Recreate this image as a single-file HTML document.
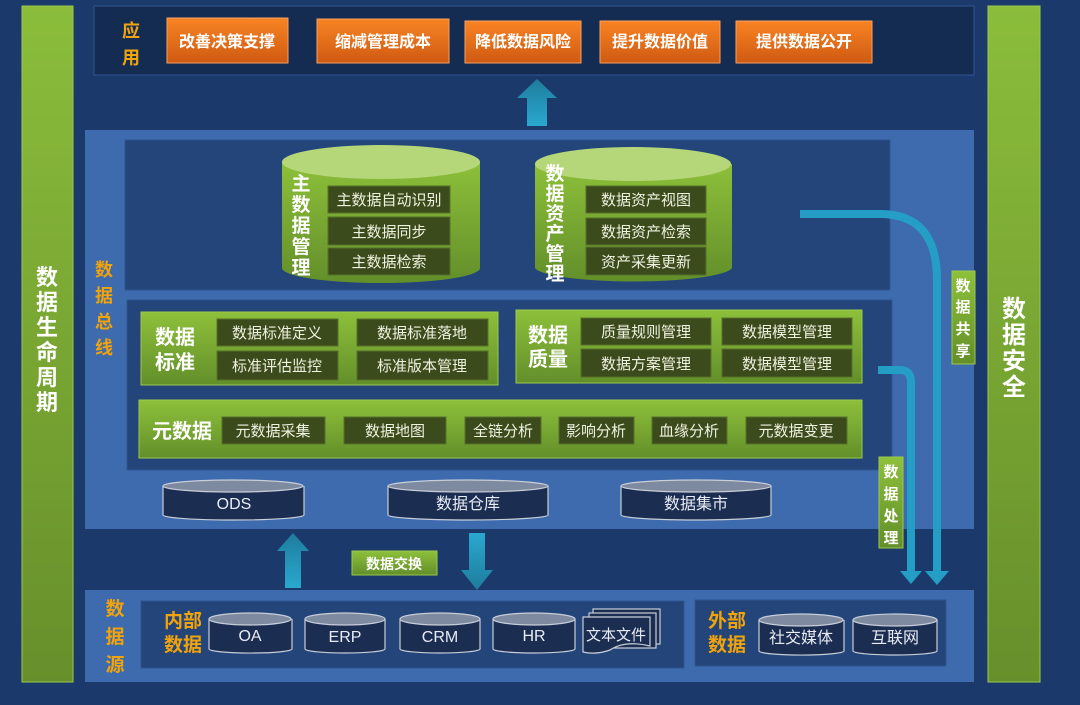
<!DOCTYPE html>
<html><head><meta charset="utf-8"><style>
html,body{margin:0;padding:0;background:#1b3a6b;}
svg{display:block;font-family:"Liberation Sans","Noto Sans CJK SC",sans-serif;}
</style></head><body>
<svg width="1080" height="705" viewBox="0 0 1080 705" xmlns="http://www.w3.org/2000/svg">
<defs>
<linearGradient id="gv" x1="0" y1="0" x2="0" y2="1"><stop offset="0" stop-color="#8dc03a"/><stop offset="1" stop-color="#638f2a"/></linearGradient>
<linearGradient id="gbar" x1="0" y1="0" x2="0" y2="1"><stop offset="0" stop-color="#8bbd3b"/><stop offset="1" stop-color="#678f2b"/></linearGradient>
<linearGradient id="or" x1="0" y1="0" x2="0" y2="1"><stop offset="0" stop-color="#f88424"/><stop offset="1" stop-color="#cf5a12"/></linearGradient>
<linearGradient id="ar" x1="0" y1="0" x2="0" y2="1"><stop offset="0" stop-color="#1e7c9c"/><stop offset="1" stop-color="#2aa8cf"/></linearGradient>
<linearGradient id="ard" x1="0" y1="0" x2="0" y2="1"><stop offset="0" stop-color="#2aa8cf"/><stop offset="1" stop-color="#1e7c9c"/></linearGradient>
</defs>
<rect width="1080" height="705" fill="#1b3a6b"/>
<!-- side bars -->
<rect x="22" y="6" width="51" height="676" fill="url(#gbar)" stroke="#9bc94a"/>
<rect x="988" y="6" width="52" height="676" fill="url(#gbar)" stroke="#9bc94a"/>
<g fill="#fff" font-weight="bold" font-size="22" text-anchor="middle">
<text x="47" y="285">数</text><text x="47" y="310">据</text><text x="47" y="335">生</text><text x="47" y="360">命</text><text x="47" y="385">周</text><text x="47" y="410">期</text>
<text x="1014" y="317" font-size="24">数</text><text x="1014" y="343" font-size="24">据</text><text x="1014" y="369" font-size="24">安</text><text x="1014" y="395" font-size="24">全</text>
</g>
<!-- application -->
<rect x="94" y="6" width="880" height="69" fill="#142b52" stroke="#2f5590"/>
<g fill="#f0a30a" font-weight="bold" font-size="18" text-anchor="middle"><text x="131" y="37">应</text><text x="131" y="64">用</text></g>
<g stroke="#f6a060" stroke-width="1">
<rect x="167" y="18" width="121" height="45" fill="url(#or)"/>
<rect x="317" y="19" width="132" height="44" fill="url(#or)"/>
<rect x="465" y="21" width="116" height="42" fill="url(#or)"/>
<rect x="600" y="21" width="120" height="42" fill="url(#or)"/>
<rect x="736" y="21" width="136" height="42" fill="url(#or)"/>
</g>
<g fill="#fff" font-weight="bold" font-size="16" text-anchor="middle">
<text x="227" y="47">改善决策支撑</text><text x="383" y="47">缩减管理成本</text><text x="523" y="47">降低数据风险</text><text x="660" y="47">提升数据价值</text><text x="804" y="47">提供数据公开</text>
</g>
<polygon points="537,79 557,98 547,98 547,126 527,126 527,98 517,98" fill="url(#ar)"/>
<!-- data bus -->
<rect x="85" y="130" width="889" height="399" fill="#3e6aae"/>
<g fill="#f0a30a" font-weight="bold" font-size="18" text-anchor="middle"><text x="104" y="276">数</text><text x="104" y="302">据</text><text x="104" y="328">总</text><text x="104" y="354">线</text></g>
<rect x="125" y="140" width="765" height="150" fill="#23457a" stroke="#2d5590"/>
<!-- cylinder 1 -->
<path d="M282,162 L282,268 A99,15 0 0 0 480,268 L480,162 Z" fill="url(#gv)"/>
<ellipse cx="381" cy="162" rx="99" ry="17" fill="#b6d67a"/>
<!-- cylinder 2 -->
<path d="M535,164 L535,268 A99,15 0 0 0 732,268 L732,164 Z" fill="url(#gv)"/>
<ellipse cx="633" cy="164" rx="98" ry="17" fill="#b6d67a"/>
<g fill="#3c4b1c" stroke="#55702a">
<rect x="328" y="186" width="122" height="27"/><rect x="328" y="217" width="122" height="28"/><rect x="328" y="248" width="122" height="27"/>
<rect x="586" y="186" width="120" height="27"/><rect x="586" y="218" width="120" height="27"/><rect x="586" y="247" width="120" height="28"/>
</g>
<g fill="#fff" font-weight="bold" font-size="19" text-anchor="middle">
<text x="301" y="190">主</text><text x="301" y="211">数</text><text x="301" y="232">据</text><text x="301" y="253">管</text><text x="301" y="274">理</text>
<text x="555" y="180">数</text><text x="555" y="200">据</text><text x="555" y="220">资</text><text x="555" y="240">产</text><text x="555" y="260">管</text><text x="555" y="280">理</text>
</g>
<g fill="#eef2e0" font-size="15" text-anchor="middle">
<text x="389" y="205">主数据自动识别</text><text x="389" y="237">主数据同步</text><text x="389" y="267">主数据检索</text>
<text x="646" y="205">数据资产视图</text><text x="646" y="237">数据资产检索</text><text x="646" y="267">资产采集更新</text>
</g>
<!-- middle -->
<rect x="127" y="300" width="765" height="170" fill="#23457a" stroke="#2d5590"/>
<g stroke="#9bc94a" fill="url(#gv)">
<rect x="141" y="312" width="357" height="73"/><rect x="516" y="310" width="346" height="73"/><rect x="139" y="400" width="723" height="58"/>
</g>
<g fill="#3c4b1c" stroke="#55702a">
<rect x="217" y="319" width="121" height="27"/><rect x="357" y="319" width="131" height="27"/><rect x="217" y="351" width="121" height="29"/><rect x="357" y="351" width="131" height="29"/>
<rect x="581" y="318" width="130" height="27"/><rect x="722" y="318" width="130" height="27"/><rect x="581" y="349" width="130" height="28"/><rect x="722" y="349" width="130" height="28"/>
<rect x="222" y="417" width="103" height="27"/><rect x="344" y="417" width="102" height="27"/><rect x="465" y="417" width="76" height="27"/><rect x="559" y="417" width="75" height="27"/><rect x="652" y="417" width="75" height="27"/><rect x="746" y="417" width="101" height="27"/>
</g>
<g fill="#fff" font-weight="bold" font-size="20" text-anchor="middle">
<text x="175" y="344">数据</text><text x="175" y="369">标准</text>
<text x="548" y="342">数据</text><text x="548" y="366">质量</text>
<text x="182" y="438">元数据</text>
</g>
<g fill="#eef2e0" font-size="15" text-anchor="middle">
<text x="277" y="338">数据标准定义</text><text x="422" y="338">数据标准落地</text><text x="277" y="371">标准评估监控</text><text x="422" y="371">标准版本管理</text>
<text x="646" y="337">质量规则管理</text><text x="787" y="337">数据模型管理</text><text x="646" y="369">数据方案管理</text><text x="787" y="369">数据模型管理</text>
<text x="273" y="436">元数据采集</text><text x="395" y="436">数据地图</text><text x="503" y="436">全链分析</text><text x="596" y="436">影响分析</text><text x="689" y="436">血缘分析</text><text x="796" y="436">元数据变更</text>
</g>
<!-- storage cylinders -->
<g fill="#1c2d52" stroke="#c8ced8" stroke-width="1.2">
<path d="M163,486 L163,515 A70,5 0 0 0 304,515 L304,486"/><ellipse cx="233" cy="486" rx="70" ry="6" fill="#7e8aa0"/>
<path d="M388,486 L388,515 A80,5 0 0 0 548,515 L548,486"/><ellipse cx="468" cy="486" rx="80" ry="6" fill="#7e8aa0"/>
<path d="M621,486 L621,515 A75,5 0 0 0 771,515 L771,486"/><ellipse cx="696" cy="486" rx="75" ry="6" fill="#7e8aa0"/>
</g>
<g fill="#e8ecf4" font-size="16" text-anchor="middle"><text x="234" y="509">ODS</text><text x="468" y="509">数据仓库</text><text x="696" y="509">数据集市</text></g>
<!-- exchange arrows -->
<polygon points="293,533 309,551 301,551 301,588 285,588 285,551 277,551" fill="url(#ar)"/>
<polygon points="469,533 485,533 485,570 493,570 477,590 461,570 469,570" fill="url(#ard)"/>
<rect x="352" y="551" width="85" height="24" fill="url(#gv)" stroke="#9bc94a"/>
<text x="394" y="569" fill="#fff" font-size="14" font-weight="bold" text-anchor="middle">数据交换</text>
<!-- sources -->
<rect x="85" y="590" width="889" height="92" fill="#3e6aae"/>
<g fill="#f0a30a" font-weight="bold" font-size="19" text-anchor="middle"><text x="115" y="615">数</text><text x="115" y="643">据</text><text x="115" y="671">源</text>
<text x="183" y="627">内部</text><text x="183" y="651">数据</text><text x="727" y="627">外部</text><text x="727" y="651">数据</text></g>
<rect x="141" y="601" width="543" height="67" fill="#23457a" stroke="#2d5590"/>
<rect x="695" y="600" width="251" height="66" fill="#23457a" stroke="#2d5590"/>
<g fill="#f0a30a" font-weight="bold" font-size="19" text-anchor="middle"><text x="183" y="627">内部</text><text x="183" y="651">数据</text><text x="727" y="627">外部</text><text x="727" y="651">数据</text></g>
<g fill="#1c2d52" stroke="#c8ced8" stroke-width="1.2">
<path d="M209,619 L209,649 A41,4 0 0 0 292,649 L292,619"/><ellipse cx="250" cy="619" rx="41" ry="6" fill="#7e8aa0"/>
<path d="M305,619 L305,649 A40,4 0 0 0 385,649 L385,619"/><ellipse cx="345" cy="619" rx="40" ry="6" fill="#7e8aa0"/>
<path d="M400,619 L400,649 A40,4 0 0 0 480,649 L480,619"/><ellipse cx="440" cy="619" rx="40" ry="6" fill="#7e8aa0"/>
<path d="M493,619 L493,649 A41,4 0 0 0 575,649 L575,619"/><ellipse cx="534" cy="619" rx="41" ry="6" fill="#7e8aa0"/>
<path d="M759,620 L759,651 A42,4 0 0 0 844,651 L844,620"/><ellipse cx="801" cy="620" rx="42" ry="6" fill="#7e8aa0"/>
<path d="M853,620 L853,651 A42,4 0 0 0 937,651 L937,620"/><ellipse cx="895" cy="620" rx="42" ry="6" fill="#7e8aa0"/>
<rect x="593" y="609" width="67" height="35"/><rect x="589" y="613" width="67" height="35"/>
<path d="M583,617 L650,617 L650,646 Q625,640 610,650 Q596,655 583,652 Z"/>
</g>
<g fill="#e8ecf4" font-size="16" text-anchor="middle"><text x="250" y="641">OA</text><text x="345" y="642">ERP</text><text x="440" y="642">CRM</text><text x="534" y="641">HR</text><text x="616" y="640" font-size="15">文本文件</text>
<text x="801" y="643">社交媒体</text><text x="895" y="643">互联网</text></g>
<!-- curved arrows -->
<path d="M800,214 L880,214 Q937,214 937,280 L937,572" fill="none" stroke="#259ec6" stroke-width="8"/>
<polygon points="925,571 949,571 937,585" fill="#259ec6"/>
<path d="M878,370 L900,370 Q911,370 911,382 L911,572" fill="none" stroke="#259ec6" stroke-width="8"/>
<polygon points="900,571 922,571 911,584" fill="#259ec6"/>
<rect x="952" y="271" width="23" height="93" fill="url(#gv)" stroke="#9bc94a"/>
<rect x="879" y="457" width="24" height="91" fill="url(#gv)" stroke="#9bc94a"/>
<g fill="#fff" font-weight="bold" font-size="15" text-anchor="middle">
<text x="963" y="291">数</text><text x="963" y="312">据</text><text x="963" y="334">共</text><text x="963" y="356">享</text>
<text x="891" y="477">数</text><text x="891" y="499">据</text><text x="891" y="521">处</text><text x="891" y="543">理</text>
</g>
</svg>
</body></html>
